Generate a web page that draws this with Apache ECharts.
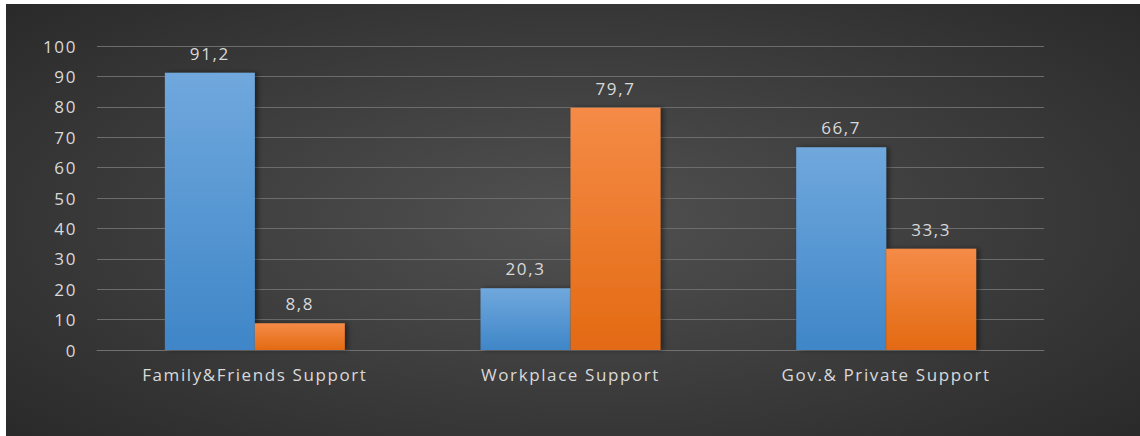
<!DOCTYPE html>
<html>
<head>
<meta charset="utf-8">
<script src="https://cdn.jsdelivr.net/npm/echarts@6/dist/echarts.min.js"></script>
<style>
  html, body { margin: 0; padding: 0; background: #ffffff; }
  #chart {
    position: absolute; left: 6px; top: 4px; width: 1134px; height: 432px;
    background: radial-gradient(ellipse 75% 80% at 50% 50%, #515151 0%, #262626 100%);
  }
  /* the source text is set wide, like an Excel screenshot */
  #chart text { letter-spacing: 1.6px; }
</style>
</head>
<body>
<div id="chart"></div>
<script>
const categories = ['Family&Friends Support', 'Workplace Support', 'Gov.& Private Support'];
const seriesA = [91.2, 20.3, 66.7];
const seriesB = [8.8, 79.7, 33.3];
const yTicks = { min: 0, max: 100, interval: 10 };

const fontFamily = '"Open Sans", Lato, sans-serif';
const textColor = '#d9d9d9';

// comma as decimal separator, like the source
const fmt = (p) => String(p.value).replace('.', ',');

const grad = (top, bottom) => new echarts.graphic.LinearGradient(0, 0, 0, 1, [
  { offset: 0, color: top },
  { offset: 1, color: bottom },
]);

const barSeries = (name, data, top, bottom) => ({
  name,
  type: 'bar',
  data,
  barGap: '0%',
  barCategoryGap: '43%',
  itemStyle: {
    color: grad(top, bottom),
    shadowColor: 'rgba(0,0,0,0.45)',
    shadowBlur: 5,
    shadowOffsetX: 3,
    shadowOffsetY: 0,
  },
  label: {
    show: true,
    position: 'top',
    distance: 11,
    color: textColor,
    fontSize: 17,
    fontFamily,
    formatter: fmt,
  },
});

const chart = echarts.init(document.getElementById('chart'), null, { renderer: 'svg' });
chart.setOption({
  animation: false,
  backgroundColor: 'transparent',
  grid: { left: 91, right: 96, top: 42, bottom: 86, containLabel: false },
  xAxis: {
    type: 'category',
    data: categories,
    axisTick: { show: false },
    axisLine: { lineStyle: { color: '#707070', width: 1 } },
    axisLabel: { color: textColor, fontSize: 17, fontFamily, margin: 16 },
  },
  yAxis: {
    type: 'value',
    min: yTicks.min,
    max: yTicks.max,
    interval: yTicks.interval,
    axisLine: { show: false },
    axisTick: { show: false },
    axisLabel: { color: textColor, fontSize: 17, fontFamily, margin: 20 },
    splitLine: { lineStyle: { color: '#6c6c6c', width: 1 } },
  },
  series: [
    barSeries('A', seriesA, '#70a8dd', '#3f86c8'),
    barSeries('B', seriesB, '#f58b47', '#e36a12'),
  ],
});
</script>
</body>
</html>
